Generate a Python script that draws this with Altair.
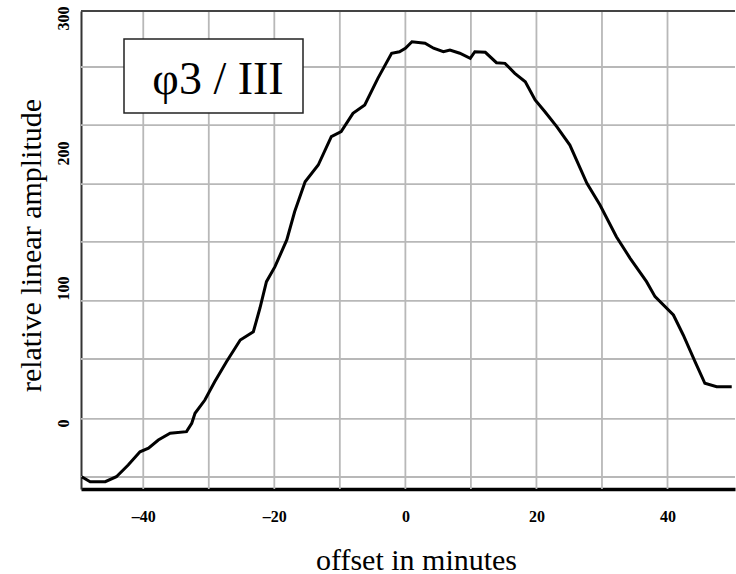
import altair as alt
import pandas as pd

# ---- data ----
offset_min = [-49.4, -48.1, -45.8, -44.1, -42.3, -40.5, -39.2, -37.7, -35.9, -33.4,
              -32.6, -32.1, -30.6, -29.1, -27.3, -25.2, -23.2, -22.2, -21.2, -19.9,
              -18.1, -16.9, -15.3, -13.3, -11.3, -9.8, -8.0, -6.2, -4.2, -2.1,
              -0.9, 0.0, 1.0, 3.0, 4.3, 5.8, 6.8, 8.3, 9.9, 10.6,
              12.2, 13.9, 15.2, 16.7, 18.3, 19.8, 21.3, 23.1, 25.1, 27.7,
              29.7, 32.2, 34.3, 36.8, 38.1, 40.9, 42.4, 44.2, 45.7, 47.5, 49.8]
amplitude = [-39.8, -43.5, -43.5, -39.8, -31.1, -21.3, -18.7, -12.6, -7.6, -6.4,
             -0.2, 7.2, 17.0, 30.6, 45.4, 61.5, 67.6, 85.0, 104.7, 115.8,
             135.6, 156.5, 178.7, 191.1, 212.1, 215.8, 229.4, 235.6, 255.3, 273.9,
             275.0, 277.6, 282.4, 281.3, 277.6, 275.0, 276.3, 273.9, 270.1, 275.0,
             274.6, 266.9, 266.4, 259.0, 252.8, 239.3, 230.6, 219.5, 205.9, 177.6,
             161.5, 138.0, 122.0, 104.7, 93.6, 80.0, 65.2, 45.4, 29.4, 26.9, 26.9]

x_grid = [-40, -30, -20, -10, 0, 10, 20, 30, 40]
y_grid = [263.7, 220.7, 177.0, 134.1, 90.4, 47.4, 3.0, -40.0]
x_ticks = [-40, -20, 0, 20, 40]
y_ticks = [0, 100, 200, 300]
panel_label = ["φ3 / III"]

W, H = 654, 478
SERIF = "Liberation Serif"

xs = alt.Scale(domain=[-49.5, 50.3], nice=False, zero=False)
ys = alt.Scale(domain=[-48.9, 305.2], nice=False, zero=False)

curve_df = pd.DataFrame({"offset": offset_min, "amp": amplitude})
xg_df = pd.DataFrame({"offset": x_grid})
yg_df = pd.DataFrame({"amp": y_grid})
lab_df = pd.DataFrame({"label": panel_label})

x_axis = alt.Axis(
    values=x_ticks, grid=False, ticks=False, tickSize=0,
    domain=True, domainColor="black", domainWidth=3.5,
    labelFont=SERIF, labelFontSize=16, labelFontWeight="bold", labelColor="black",
    labelBaseline="middle", labelPadding=27, labelFlush=False, labelOverlap=False,
    labelExpr="datum.value < 0 ? '–' + abs(datum.value) : datum.label",
    title="offset in minutes", titleFont=SERIF, titleFontSize=30,
    titleFontWeight="normal", titleColor="black",
    titleBaseline="alphabetic", titleY=80, titleX=W / 2 + 8,
)
y_axis = alt.Axis(
    values=y_ticks, grid=False, ticks=False, tickSize=0,
    domain=True, domainColor="#333333", domainWidth=2,
    labelFont=SERIF, labelFontSize=16, labelFontWeight="bold", labelColor="black",
    labelAngle=270, labelAlign="center", labelBaseline="middle", labelPadding=18,
    labelFlush=False, labelOverlap=False,
    title="relative linear amplitude", titleFont=SERIF, titleFontSize=30,
    titleFontWeight="normal", titleColor="black", titleAngle=270,
    titleAlign="center", titleBaseline="middle", titleX=-50, titleY=234,
)

vgrid = alt.Chart(xg_df).mark_rule(color="#b8b8b8", strokeWidth=1.8).encode(
    x=alt.X("offset:Q", scale=xs, axis=x_axis)
)
hgrid = alt.Chart(yg_df).mark_rule(color="#b8b8b8", strokeWidth=1.8).encode(
    y=alt.Y("amp:Q", scale=ys, axis=y_axis)
)
box = alt.Chart(lab_df).mark_rect(fill="white", stroke="#222222", strokeWidth=1.5).encode(
    x=alt.value(43), x2=alt.value(222), y=alt.value(28), y2=alt.value(102)
)
box_text = alt.Chart(lab_df).mark_text(
    font=SERIF, fontSize=46, align="center", baseline="alphabetic", color="black"
).encode(x=alt.value(137), y=alt.value(83), text="label:N")
top_border = alt.Chart(lab_df).mark_rule(color="#444444", strokeWidth=2).encode(
    x=alt.value(0), x2=alt.value(W), y=alt.value(0)
)
line = alt.Chart(curve_df).mark_line(color="black", strokeWidth=3).encode(
    x=alt.X("offset:Q", scale=xs, axis=x_axis),
    y=alt.Y("amp:Q", scale=ys, axis=y_axis),
)

chart = alt.layer(vgrid, hgrid, box, box_text, top_border, line).properties(
    width=W, height=H,
    autosize=alt.AutoSizeParams(type="none"),
    padding={"left": 81, "top": 11, "right": 1, "bottom": 85},
    background="white",
).configure_view(stroke=None)

chart.save("out.html", embed_options={"renderer": "svg", "actions": False})
